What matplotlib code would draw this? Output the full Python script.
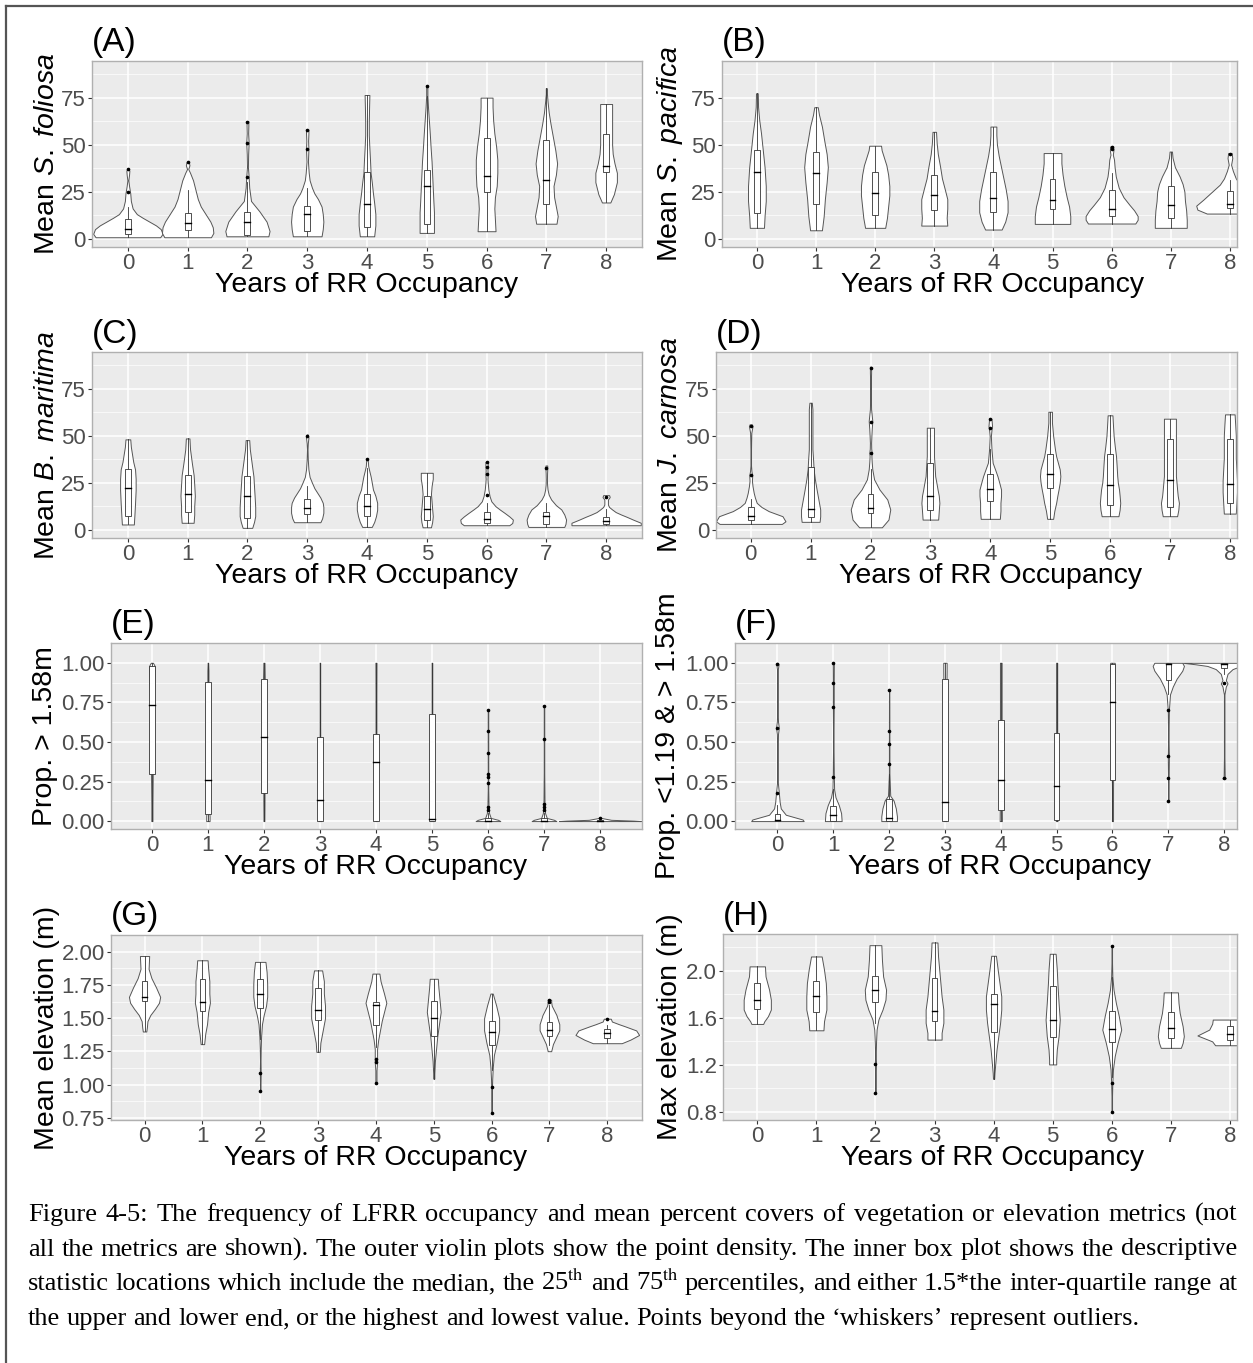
import matplotlib
matplotlib.use("Agg")
import matplotlib.pyplot as plt
from matplotlib.patches import Rectangle
from matplotlib.lines import Line2D

W, H = 1253, 1363
plt.rcParams['font.family'] = ['Liberation Sans', 'DejaVu Sans']
plt.rcParams['mathtext.fontset'] = 'custom'
plt.rcParams['mathtext.rm'] = 'Liberation Sans'
plt.rcParams['mathtext.it'] = 'Liberation Sans:italic'

years = [0, 1, 2, 3, 4, 5, 6, 7, 8]
xlabel = 'Years of RR Occupancy'

# ---- violin outlines (y level, half width) and box stats [lo, q1, med, q3, hi] ----
# (A) S. foliosa
A_y = [[0.7, 2.5, 5, 7, 9, 11, 13, 16, 20, 24, 28, 31, 34, 36, 37],
       [0.7, 3, 6, 9, 13, 17, 21, 26, 31, 35, 37, 39, 40.6],
       [1.2, 4, 9, 14.5, 20, 27, 33, 38, 45, 51, 56, 60, 62.5],
       [1.2, 5, 9, 13, 17, 21, 24, 27, 31, 35, 41, 47.5, 52, 56, 58],
       [1.2, 7, 13, 19, 24, 30, 35, 42, 48, 55, 62, 70, 76.4],
       [3, 8, 14, 20, 27, 34, 41, 48, 56, 63, 70, 76, 81.4],
       [3.9, 10, 16, 22, 28, 35, 42, 49, 56, 63, 70, 75],
       [7.9, 12, 17, 22, 28, 34, 40, 47, 54, 61, 67, 73, 77, 80],
       [19.2, 23.6, 30, 35, 40, 45, 50, 56, 63, 71.6]]
A_w = [[0.54, 0.58, 0.55, 0.47, 0.36, 0.25, 0.15, 0.08, 0.05, 0.04, 0.02, 0.008, 0.02, 0.025, 0.015],
       [0.39, 0.43, 0.42, 0.38, 0.3, 0.22, 0.17, 0.13, 0.09, 0.04, 0.01, 0.03, 0.02],
       [0.35, 0.37, 0.32, 0.2, 0.06, 0.03, 0.02, 0.008, 0.012, 0.02, 0.012, 0.015, 0.015],
       [0.24, 0.26, 0.27, 0.26, 0.24, 0.18, 0.12, 0.08, 0.04, 0.025, 0.012, 0.02, 0.015, 0.02, 0.02],
       [0.12, 0.14, 0.14, 0.12, 0.1, 0.08, 0.06, 0.05, 0.04, 0.03, 0.03, 0.035, 0.04],
       [0.12, 0.12, 0.12, 0.11, 0.1, 0.09, 0.08, 0.065, 0.05, 0.035, 0.02, 0.01, 0.01],
       [0.15, 0.14, 0.13, 0.14, 0.17, 0.18, 0.18, 0.16, 0.13, 0.11, 0.1, 0.1],
       [0.17, 0.19, 0.16, 0.13, 0.12, 0.16, 0.18, 0.15, 0.11, 0.07, 0.04, 0.02, 0.01, 0.01],
       [0.07, 0.13, 0.18, 0.18, 0.14, 0.11, 0.1, 0.1, 0.1, 0.1]]
A_box = [[0.7, 2.5, 5.2, 10.2, 17], [0.7, 4.3, 8.4, 13.8, 26], [1.2, 2.1, 9, 14.3, 30],
         [1.2, 3.9, 13.2, 17.2, 27], [1.2, 6.4, 18.6, 35.3, 76.4], [3, 8, 28.1, 36.5, 76],
         [3.9, 24.9, 33.1, 53.5, 75], [7.9, 18.3, 31.1, 52.3, 80], [19.2, 35.3, 38.8, 55.8, 71.6]]
A_out = [[25, 37], [40.6], [33, 51, 62], [47.5, 58], [], [81], [], [], []]

# (B) S. pacifica
B_y = [[5.7, 12, 20, 28, 38, 47, 56, 63, 70, 77.3],
       [4.4, 12, 21, 30, 38, 45, 52, 59.6, 66, 69.9],
       [5.7, 11, 17, 23, 28, 34, 39, 44, 47, 49.4],
       [6.9, 11, 16, 21, 26, 32, 38, 45, 51, 56.8],
       [4.8, 9, 14, 20, 26, 32, 38, 44, 50, 55, 59.6],
       [7.8, 12, 17, 22, 28, 34, 40, 45.5],
       [8, 10, 12, 15, 18, 22, 27, 33, 38, 42, 44.6, 47, 49],
       [5.7, 10, 15, 20, 25, 29, 33, 38, 43, 46.3],
       [13.3, 15.4, 17.5, 20.7, 25, 28.7, 32, 36, 39.3, 42.8, 45.5]]
B_w = [[0.12, 0.13, 0.15, 0.15, 0.13, 0.1, 0.07, 0.04, 0.02, 0.015],
       [0.1, 0.13, 0.15, 0.18, 0.2, 0.18, 0.14, 0.1, 0.05, 0.03],
       [0.17, 0.2, 0.22, 0.24, 0.24, 0.22, 0.19, 0.14, 0.11, 0.1],
       [0.22, 0.21, 0.22, 0.22, 0.18, 0.13, 0.1, 0.06, 0.04, 0.03],
       [0.14, 0.2, 0.24, 0.24, 0.21, 0.17, 0.13, 0.09, 0.06, 0.05, 0.05],
       [0.3, 0.3, 0.28, 0.24, 0.2, 0.17, 0.15, 0.15],
       [0.4, 0.44, 0.44, 0.38, 0.3, 0.2, 0.12, 0.07, 0.05, 0.04, 0.02, 0.03, 0.025],
       [0.27, 0.27, 0.26, 0.24, 0.23, 0.2, 0.15, 0.07, 0.03, 0.02],
       [0.39, 0.55, 0.57, 0.45, 0.3, 0.17, 0.1, 0.05, 0.02, 0.04, 0.03]]
B_box = [[5.7, 13.6, 35.2, 46.9, 77.3], [4.4, 18.4, 34.8, 46, 69.9], [5.7, 12.7, 24.2, 35.2, 49.4],
         [6.9, 15, 23.4, 34, 56.8], [4.8, 14.2, 21.6, 35.2, 59.6], [7.8, 15.7, 20.3, 31.7, 45.5],
         [8, 12.2, 15.9, 26, 35], [5.7, 11, 18, 28.1, 46.3], [13.3, 16.3, 18.6, 25.1, 31]]
B_out = [[], [], [], [], [], [], [47.5, 48.5], [], [45]]

# (C) B. maritima
C_y = [[2.7, 8, 14, 21, 27, 32, 36, 40, 44, 48],
       [3.6, 8, 12.4, 18, 24, 29, 35.5, 42.7, 48.5],
       [0.9, 4, 7.1, 12, 17.8, 23, 28.4, 35.5, 42.7, 47.6],
       [3.9, 6, 8.9, 12, 14.2, 17, 19.5, 22, 24.9, 28, 32, 37, 42.7, 46, 48.9, 50.6],
       [1.4, 4, 7.1, 10.5, 14.2, 18, 21.3, 25, 28.4, 31, 33.8, 36, 37.7],
       [1.2, 4, 7.1, 11, 15, 19, 23, 27, 30.2],
       [2.3, 3.5, 5.3, 7, 8.9, 10.7, 12.4, 15, 17.8, 21.3, 24.9, 27, 29.3, 31.5, 33.8, 35.9],
       [1.4, 3, 5.3, 8, 10.7, 13, 16, 18.5, 21.3, 24, 26.7, 30, 32, 34.1],
       [2.3, 3.6, 5.3, 6.7, 8, 9.3, 10.7, 12, 13.3, 16, 17.3, 18.3]]
C_w = [[0.1, 0.11, 0.12, 0.13, 0.13, 0.12, 0.09, 0.07, 0.05, 0.04],
       [0.1, 0.11, 0.11, 0.12, 0.11, 0.1, 0.07, 0.04, 0.03],
       [0.08, 0.11, 0.13, 0.13, 0.12, 0.11, 0.1, 0.07, 0.04, 0.03],
       [0.22, 0.25, 0.27, 0.27, 0.26, 0.22, 0.17, 0.12, 0.08, 0.04, 0.02, 0.01, 0.005, 0.01, 0.02, 0.01],
       [0.08, 0.12, 0.15, 0.17, 0.17, 0.14, 0.1, 0.08, 0.06, 0.04, 0.02, 0.015, 0.01],
       [0.07, 0.09, 0.1, 0.09, 0.08, 0.07, 0.08, 0.1, 0.1],
       [0.38, 0.43, 0.44, 0.38, 0.3, 0.22, 0.15, 0.08, 0.05, 0.03, 0.02, 0.015, 0.02, 0.015, 0.02, 0.02],
       [0.3, 0.32, 0.33, 0.3, 0.25, 0.16, 0.08, 0.04, 0.02, 0.012, 0.01, 0.012, 0.015, 0.015],
       [0.58, 0.58, 0.45, 0.35, 0.25, 0.16, 0.1, 0.05, 0.03, 0.03, 0.06, 0.05]]
C_box = [[2.7, 7.1, 22.2, 32.3, 48], [3.6, 9.2, 18.7, 29, 48.5], [0.9, 6.2, 18.1, 28.4, 47.6],
         [3.9, 8.5, 11.6, 16, 23], [1.4, 7.1, 12.4, 18.7, 33], [1.2, 5.3, 10.7, 18.1, 30.2],
         [2.3, 3.6, 5.7, 9.2, 14], [1.4, 2.7, 7.1, 9.2, 14], [2.3, 2.7, 4.4, 6.6, 11]]
C_out = [[], [], [], [50], [37.5], [], [18.3, 29.3, 33.5, 35.9], [33], [17.5]]

# (D) J. carnosa
D_y = [[3, 4.4, 7.1, 9.8, 12, 14.2, 17, 19.5, 23.1, 26, 28.9, 31, 34, 38, 42.7, 47, 51.5, 55, 56],
       [4.1, 7, 10.7, 16, 21.3, 27, 32, 38, 42.7, 50, 56.9, 64, 67.5],
       [1.2, 5.3, 10.7, 16, 21.3, 26.7, 32, 36, 39, 40.9, 43, 46.2, 50, 53.3, 57.8, 61, 64, 70, 74.6, 80, 83.5, 86.7],
       [5.3, 10, 14.2, 18, 21.3, 25, 28.4, 34, 39, 44, 48, 54.2],
       [5.7, 10, 14.2, 18, 21.3, 25, 28.4, 32, 35.5, 39, 42.7, 46, 49.8, 53, 55, 57, 59],
       [5.7, 10, 14.2, 18, 21.3, 25, 28.4, 32, 35.5, 39, 42.7, 49.8, 56.9, 62.7],
       [7.1, 10.5, 14.2, 18, 21.3, 25, 28.4, 34, 39, 44, 49.8, 55, 60.8],
       [7.1, 10.5, 14.2, 18, 21.3, 25, 28.4, 34, 39, 44, 49.8, 55, 59],
       [8.5, 14, 20, 26, 32, 38, 44, 50, 56, 61.3]]
D_w = [[0.52, 0.58, 0.53, 0.3, 0.18, 0.1, 0.07, 0.05, 0.03, 0.02, 0.025, 0.012, 0.005, 0.005, 0.005, 0.007, 0.01, 0.03, 0.02],
       [0.15, 0.16, 0.16, 0.13, 0.1, 0.07, 0.05, 0.04, 0.03, 0.03, 0.03, 0.03, 0.02],
       [0.19, 0.3, 0.33, 0.28, 0.15, 0.06, 0.03, 0.02, 0.015, 0.02, 0.012, 0.01, 0.015, 0.02, 0.03, 0.02, 0.01, 0.006, 0.005, 0.007, 0.01, 0.01],
       [0.13, 0.14, 0.15, 0.14, 0.12, 0.1, 0.08, 0.07, 0.06, 0.06, 0.06, 0.06],
       [0.16, 0.17, 0.17, 0.18, 0.18, 0.15, 0.12, 0.08, 0.04, 0.03, 0.02, 0.015, 0.01, 0.02, 0.03, 0.025, 0.02],
       [0.05, 0.07, 0.1, 0.12, 0.14, 0.16, 0.17, 0.16, 0.13, 0.1, 0.08, 0.05, 0.03, 0.03],
       [0.14, 0.16, 0.17, 0.16, 0.15, 0.13, 0.12, 0.11, 0.1, 0.08, 0.06, 0.05, 0.04],
       [0.12, 0.14, 0.15, 0.13, 0.12, 0.11, 0.1, 0.1, 0.1, 0.1, 0.1, 0.1, 0.1],
       [0.1, 0.11, 0.12, 0.12, 0.11, 0.1, 0.1, 0.1, 0.09, 0.08]]
D_box = [[3, 5.3, 7.1, 12.1, 16], [4.1, 6.6, 11, 33.2, 67.5], [1.2, 8.9, 11.6, 18.7, 32],
         [5.3, 10.3, 18.1, 35.5, 54.2], [5.7, 15.1, 21.7, 29.3, 43], [5.7, 22.2, 29.7, 40, 62.7],
         [7.1, 12.8, 23.5, 40.3, 60.8], [7.1, 12.1, 26.3, 48, 59], [8.5, 14.2, 24.5, 48, 61.3]]
D_out = [[29, 55], [], [41, 57, 86], [], [54.2, 59], [], [], [], []]

# (E) proportion > 1.58 m
E_y = [[0, 0.1, 0.3, 0.5, 0.7, 0.85, 0.95, 0.98, 1.0],
       [0, 0.03, 0.08, 0.2, 0.4, 0.6, 0.8, 0.95, 1.0],
       [0, 0.1, 0.3, 0.5, 0.7, 0.9, 1.0],
       [0, 0.05, 0.2, 0.4, 0.6, 0.8, 1.0],
       [0, 0.2, 0.4, 0.6, 0.8, 1.0],
       [0, 0.02, 0.1, 0.3, 0.6, 0.8, 1.0],
       [0, 0.008, 0.02, 0.05, 0.1, 0.2, 0.3, 0.43, 0.57, 0.7],
       [0, 0.008, 0.02, 0.05, 0.1, 0.3, 0.52, 0.73],
       [0, 0.003, 0.008, 0.02]]
E_w = [[0.01, 0.01, 0.015, 0.02, 0.03, 0.04, 0.05, 0.05, 0.02],
       [0.03, 0.03, 0.02, 0.01, 0.008, 0.008, 0.01, 0.01, 0.005],
       [0.008, 0.01, 0.012, 0.012, 0.012, 0.015, 0.01],
       [0.02, 0.015, 0.01, 0.007, 0.005, 0.005, 0.005],
       [0.01, 0.008, 0.008, 0.008, 0.008, 0.01],
       [0.03, 0.03, 0.01, 0.006, 0.006, 0.006, 0.006],
       [0.22, 0.18, 0.05, 0.02, 0.01, 0.005, 0.005, 0.005, 0.005, 0.005],
       [0.22, 0.18, 0.05, 0.02, 0.01, 0.005, 0.005, 0.005],
       [0.73, 0.6, 0.2, 0.02]]
E_box = [[0, 0.30, 0.734, 0.98, 1.0], [0, 0.043, 0.26, 0.876, 1.0], [0, 0.178, 0.53, 0.90, 1.0],
         [0, 0.0, 0.132, 0.53, 1.0], [0, 0.0, 0.373, 0.55, 1.0], [0, 0.0, 0.014, 0.675, 1.0],
         [0, 0, 0.003, 0.02, 0.05], [0, 0, 0.003, 0.02, 0.05], [0, 0, 0.001, 0.004, 0.008]]
E_out = [[], [], [], [], [], [], [0.07, 0.09, 0.24, 0.28, 0.30, 0.43, 0.57, 0.70],
         [0.07, 0.09, 0.11, 0.52, 0.73], [0.02]]

# (F) proportion < 1.19 & > 1.58 m
F_y = [[0, 0.01, 0.02, 0.04, 0.08, 0.12, 0.18, 0.25, 0.45, 0.55, 0.59, 0.63, 0.7, 0.95, 0.99, 1.0],
       [0, 0.05, 0.1, 0.15, 0.2, 0.28, 0.5, 0.72, 0.87, 1.0],
       [0, 0.03, 0.08, 0.13, 0.16, 0.3, 0.5, 0.7, 0.83],
       [0, 0.2, 0.4, 0.6, 0.8, 0.95, 1.0],
       [0, 0.2, 0.4, 0.6, 0.8, 1.0],
       [0, 0.2, 0.4, 0.6, 0.8, 1.0],
       [0, 0.2, 0.4, 0.6, 0.8, 0.95, 1.0],
       [0.13, 0.27, 0.4, 0.5, 0.6, 0.7, 0.8, 0.85, 0.9, 0.95, 0.98, 1.0],
       [0.27, 0.28, 0.4, 0.6, 0.8, 0.85, 0.87, 0.89, 0.93, 0.96, 0.98, 0.99, 1.0]]
F_w = [[0.47, 0.45, 0.35, 0.15, 0.06, 0.04, 0.025, 0.005, 0.005, 0.01, 0.025, 0.01, 0.004, 0.004, 0.02, 0.01],
       [0.15, 0.14, 0.1, 0.04, 0.015, 0.01, 0.003, 0.008, 0.008, 0.01],
       [0.14, 0.14, 0.12, 0.08, 0.02, 0.005, 0.005, 0.004, 0.003],
       [0.02, 0.02, 0.02, 0.02, 0.025, 0.03, 0.03],
       [0.02, 0.015, 0.015, 0.015, 0.015, 0.015],
       [0.015, 0.01, 0.01, 0.01, 0.01, 0.01],
       [0.01, 0.01, 0.015, 0.02, 0.025, 0.04, 0.04],
       [0.005, 0.006, 0.01, 0.005, 0.006, 0.01, 0.03, 0.08, 0.15, 0.25, 0.28, 0.25],
       [0.03, 0.01, 0.005, 0.005, 0.005, 0.03, 0.06, 0.03, 0.06, 0.15, 0.3, 0.5, 0.74]]
F_box = [[0, 0, 0.005, 0.043, 0.1], [0, 0, 0.04, 0.097, 0.2], [0, 0, 0.02, 0.142, 0.3],
         [0, 0, 0.118, 0.9, 1.0], [0, 0.07, 0.26, 0.64, 1.0], [0, 0.01, 0.22, 0.556, 1.0],
         [0, 0.26, 0.755, 0.99, 1.0], [0.8, 0.89, 0.99, 1.0, 1.0], [0.93, 0.97, 0.99, 1.0, 1.0]]
F_out = [[0.18, 0.59, 0.99], [0.28, 0.72, 0.87, 1.0], [0.36, 0.49, 0.57, 0.83], [], [], [], [],
         [0.13, 0.27, 0.41, 0.7], [0.87, 0.27]]

# (G) mean elevation
G_y = [[1.40, 1.43, 1.478, 1.524, 1.57, 1.616, 1.66, 1.73, 1.80, 1.87, 1.967],
       [1.305, 1.385, 1.455, 1.547, 1.616, 1.685, 1.778, 1.87, 1.935],
       [0.952, 1.016, 1.085, 1.178, 1.27, 1.362, 1.455, 1.524, 1.593, 1.662, 1.755, 1.847, 1.923],
       [1.247, 1.316, 1.408, 1.50, 1.593, 1.685, 1.778, 1.859],
       [1.012, 1.04, 1.108, 1.17, 1.19, 1.27, 1.339, 1.408, 1.478, 1.547, 1.616, 1.685, 1.778, 1.835],
       [1.046, 1.085, 1.178, 1.27, 1.362, 1.455, 1.547, 1.639, 1.73, 1.796],
       [0.79, 0.855, 0.947, 1.039, 1.131, 1.224, 1.316, 1.408, 1.50, 1.593, 1.685],
       [1.252, 1.305, 1.362, 1.408, 1.455, 1.524, 1.593, 1.62, 1.639],
       [1.312, 1.339, 1.374, 1.408, 1.44, 1.455, 1.475, 1.496]]
G_w = [[0.03, 0.04, 0.05, 0.1, 0.18, 0.25, 0.27, 0.2, 0.12, 0.07, 0.08],
       [0.03, 0.05, 0.08, 0.1, 0.13, 0.12, 0.12, 0.1, 0.09],
       [0.005, 0.005, 0.008, 0.005, 0.008, 0.015, 0.03, 0.06, 0.1, 0.12, 0.12, 0.11, 0.09],
       [0.03, 0.04, 0.08, 0.12, 0.12, 0.1, 0.1, 0.07],
       [0.01, 0.01, 0.01, 0.02, 0.02, 0.02, 0.04, 0.07, 0.1, 0.14, 0.18, 0.14, 0.08, 0.06],
       [0.01, 0.01, 0.02, 0.04, 0.06, 0.09, 0.12, 0.1, 0.08, 0.07],
       [0.005, 0.005, 0.005, 0.01, 0.02, 0.04, 0.09, 0.13, 0.13, 0.08, 0.02],
       [0.03, 0.06, 0.12, 0.17, 0.17, 0.12, 0.04, 0.03, 0.03],
       [0.25, 0.4, 0.55, 0.5, 0.3, 0.2, 0.08, 0.06]]
G_box = [[1.40, 1.628, 1.658, 1.782, 1.967], [1.305, 1.552, 1.621, 1.794, 1.935],
         [1.34, 1.575, 1.681, 1.794, 1.923], [1.247, 1.489, 1.558, 1.727, 1.859],
         [1.28, 1.45, 1.598, 1.621, 1.835], [1.046, 1.367, 1.505, 1.632, 1.796],
         [1.108, 1.298, 1.397, 1.482, 1.685], [1.30, 1.369, 1.413, 1.473, 1.60],
         [1.312, 1.35, 1.39, 1.42, 1.45]]
G_out = [[], [], [1.085, 0.952], [], [1.19, 1.17, 1.012], [], [0.98, 0.79], [1.62, 1.639], [1.496]]

# (H) max elevation
H_y = [[1.548, 1.571, 1.613, 1.67, 1.754, 1.839, 1.952, 2.037],
       [1.494, 1.571, 1.67, 1.782, 1.895, 2.008, 2.121],
       [0.958, 0.992, 1.105, 1.218, 1.274, 1.387, 1.5, 1.585, 1.67, 1.754, 1.839, 1.952, 2.093, 2.217],
       [1.415, 1.472, 1.557, 1.67, 1.782, 1.895, 2.008, 2.121, 2.24],
       [1.082, 1.133, 1.218, 1.331, 1.444, 1.557, 1.67, 1.782, 1.895, 2.008, 2.127],
       [1.204, 1.246, 1.331, 1.444, 1.585, 1.726, 1.895, 2.008, 2.144],
       [0.8, 0.936, 1.048, 1.161, 1.274, 1.387, 1.5, 1.613, 1.726, 1.839, 1.952, 2.065, 2.212],
       [1.345, 1.387, 1.444, 1.528, 1.641, 1.726, 1.816],
       [1.367, 1.40, 1.45, 1.50, 1.55, 1.585]]
H_w = [[0.1, 0.12, 0.18, 0.23, 0.23, 0.2, 0.14, 0.13],
       [0.12, 0.13, 0.17, 0.17, 0.16, 0.13, 0.09],
       [0.01, 0.005, 0.005, 0.01, 0.005, 0.01, 0.02, 0.05, 0.12, 0.17, 0.18, 0.13, 0.11, 0.1],
       [0.12, 0.12, 0.15, 0.15, 0.12, 0.1, 0.08, 0.06, 0.05],
       [0.01, 0.015, 0.03, 0.05, 0.08, 0.11, 0.13, 0.13, 0.1, 0.07, 0.04],
       [0.06, 0.06, 0.07, 0.1, 0.12, 0.1, 0.08, 0.07, 0.05],
       [0.005, 0.005, 0.01, 0.02, 0.05, 0.1, 0.16, 0.12, 0.07, 0.03, 0.01, 0.005, 0.005],
       [0.17, 0.2, 0.22, 0.2, 0.15, 0.13, 0.12],
       [0.25, 0.3, 0.55, 0.35, 0.3, 0.29]]
H_box = [[1.548, 1.675, 1.754, 1.895, 2.037], [1.494, 1.647, 1.782, 1.915, 2.121],
         [1.557, 1.735, 1.833, 1.958, 2.217], [1.415, 1.571, 1.661, 1.938, 2.24],
         [1.082, 1.48, 1.72, 1.802, 2.127], [1.204, 1.438, 1.585, 1.867, 2.144],
         [1.1, 1.393, 1.506, 1.661, 1.95], [1.345, 1.43, 1.511, 1.647, 1.816],
         [1.367, 1.415, 1.463, 1.534, 1.585]]
H_out = [[], [], [1.21, 0.96], [], [], [], [2.21, 1.05, 0.80], [], []]

pct_ticks = [0, 25, 50, 75]
prop_ticks = [0, 0.25, 0.5, 0.75, 1.0]
mean_el_ticks = [0.75, 1.0, 1.25, 1.5, 1.75, 2.0]
max_el_ticks = [0.8, 1.2, 1.6, 2.0]

caption = [
    "Figure 4-5: The frequency of LFRR occupancy and mean percent covers of vegetation or elevation metrics (not",
    "all the metrics are shown).  The outer violin plots show the point density.  The inner box plot shows the descriptive",
    "statistic locations which include the median, the 25$^{\\mathrm{th}}$ and 75$^{\\mathrm{th}}$ percentiles, and either 1.5*the inter-quartile range at",
    "the upper and lower end, or the highest and lowest value. Points beyond the \u2018whiskers\u2019 represent outliers.",
]

# ---- layout (pixels from top-left) ----
panels = [
    dict(tag='(A)', ylab=r'Mean $\it{S.\ foliosa}$', y=A_y, w=A_w, box=A_box, out=A_out,
         px=(92, 642, 61, 247), xlim=(-0.6, 8.6), ylim=(-4.5, 94.5), ticks=pct_ticks, fmt='%g',
         ylx=47, xlc=367),
    dict(tag='(B)', ylab=r'Mean $\it{S.\ pacifica}$', y=B_y, w=B_w, box=B_box, out=B_out,
         px=(722, 1237, 61, 247), xlim=(-0.59, 8.12), ylim=(-4.5, 94.5), ticks=pct_ticks, fmt='%g',
         ylx=670, xlc=993),
    dict(tag='(C)', ylab=r'Mean $\it{B.\ maritima}$', y=C_y, w=C_w, box=C_box, out=C_out,
         px=(92, 642, 352, 538), xlim=(-0.6, 8.6), ylim=(-4.5, 94.5), ticks=pct_ticks, fmt='%g',
         ylx=47, xlc=367),
    dict(tag='(D)', ylab=r'Mean $\it{J.\ carnosa}$', y=D_y, w=D_w, box=D_box, out=D_out,
         px=(716, 1237, 352, 538), xlim=(-0.58, 8.12), ylim=(-4.5, 94.5), ticks=pct_ticks, fmt='%g',
         ylx=670, xlc=991),
    dict(tag='(E)', ylab='Prop. > 1.58m', y=E_y, w=E_w, box=E_box, out=E_out,
         px=(111, 642, 643, 829), xlim=(-0.73, 8.75), ylim=(-0.05, 1.05), ticks=prop_ticks, fmt='%.2f',
         ylx=45, xlc=376),
    dict(tag='(F)', ylab='Prop. <1.19 & > 1.58m', y=F_y, w=F_w, box=F_box, out=F_out,
         px=(735, 1237, 643, 829), xlim=(-0.76, 8.23), ylim=(-0.05, 1.05), ticks=prop_ticks, fmt='%.2f',
         ylx=668, xlc=1000),
    dict(tag='(G)', ylab='Mean elevation (m)', y=G_y, w=G_w, box=G_box, out=G_out,
         px=(111, 642, 935, 1120), xlim=(-0.58, 8.6), ylim=(0.735, 2.025), ticks=mean_el_ticks, fmt='%.2f',
         ylx=47, xlc=376),
    dict(tag='(H)', ylab='Max elevation (m)', y=H_y, w=H_w, box=H_box, out=H_out,
         px=(723, 1237, 934, 1120), xlim=(-0.58, 8.12), ylim=(0.732, 2.312), ticks=max_el_ticks, fmt='%.1f',
         ylx=670, xlc=993),
]

fig = plt.figure(figsize=(W / 100, H / 100), dpi=100)

def fx(x):
    return x / W

def fy(y):
    return 1 - y / H

for p in panels:
    l, r, t, b = p['px']
    ax = fig.add_axes([fx(l), fy(b), (r - l) / W, (b - t) / H])
    ax.set_facecolor('#EBEBEB')
    ax.set_xlim(*p['xlim'])
    ax.set_ylim(*p['ylim'])
    ax.set_xticks(years)
    ax.set_xticklabels([str(v) for v in years])
    ax.set_yticks(p['ticks'])
    ax.set_yticklabels([p['fmt'] % v for v in p['ticks']])
    tk = p['ticks']
    ax.set_yticks([(tk[i] + tk[i + 1]) / 2 for i in range(len(tk) - 1)] +
                  [tk[-1] + (tk[1] - tk[0]) / 2], minor=True)
    ax.grid(which='major', color='white', lw=1.1)
    ax.grid(which='minor', axis='y', color='white', lw=0.5)
    ax.set_axisbelow(True)
    ax.tick_params(which='major', length=3, width=0.8, color='#333333', labelsize=16,
                   labelcolor='#4D4D4D', pad=1.5)
    ax.tick_params(which='minor', length=0)
    for s in ax.spines.values():
        s.set_color('#B0B0B0')
        s.set_linewidth(1.0)

    bw = 0.05
    for x, ys, ws, bx, outs in zip(years, p['y'], p['w'], p['box'], p['out']):
        lft = [x - v for v in ws]
        rgt = [x + v for v in ws]
        ax.fill_betweenx(ys, lft, rgt, facecolor='white', edgecolor='#555555', lw=0.7, zorder=2)
        lo, q1, med, q3, hi = bx
        ax.plot([x, x], [lo, q1], color='#333333', lw=0.6, zorder=3)
        ax.plot([x, x], [q3, hi], color='#333333', lw=0.6, zorder=3)
        ax.add_patch(Rectangle((x - bw, q1), 2 * bw, q3 - q1, facecolor='white',
                               edgecolor='#333333', lw=0.6, zorder=3))
        ax.plot([x - bw, x + bw], [med, med], color='black', lw=1.0, zorder=4)
        if outs:
            ax.plot([x] * len(outs), outs, 'o', color='black', ms=1.6, zorder=5)

    # titles and axis labels
    fig.text(fx(l), fy(t - 18), p['tag'], fontsize=24, ha='left', va='center')
    fig.text(fx(p['ylx']), fy((t + b) / 2), p['ylab'], fontsize=20.5, rotation=90,
             ha='center', va='center')
    fig.text(fx(p['xlc']), fy(b + 38), xlabel, fontsize=20.5, ha='center', va='center')

# outer frame (top and left edges visible)
fig.add_artist(Line2D([fx(6), 1], [fy(6), fy(6)], transform=fig.transFigure, color='#555555', lw=1.6))
fig.add_artist(Line2D([fx(6), fx(6)], [0, fy(6)], transform=fig.transFigure, color='#555555', lw=1.6))

# caption, justified except the last line
renderer = fig.canvas.get_renderer()
x0, x1 = 28, 1237
baselines = [1221, 1255.5, 1290, 1325]
for i, line in enumerate(caption):
    words = line.split()
    arts = [fig.text(0, fy(baselines[i]), wd, fontsize=19, family='Liberation Serif',
                     math_fontfamily='stix', ha='left', va='baseline') for wd in words]
    widths = [a.get_window_extent(renderer).width for a in arts]
    if i < len(caption) - 1:
        gap = (x1 - x0 - sum(widths)) / (len(words) - 1)
    else:
        gap = 6.5
    xpos = x0
    for a, wd in zip(arts, widths):
        a.set_x(fx(xpos))
        xpos += wd + gap

fig.savefig('out.png', dpi=100)
